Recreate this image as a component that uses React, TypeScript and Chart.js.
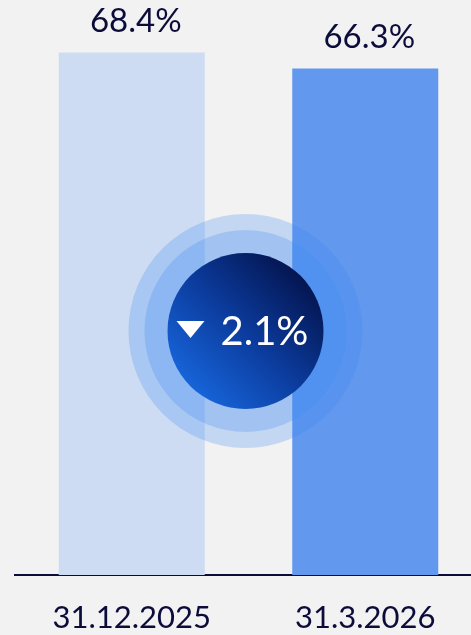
import React, { useEffect, useRef } from "react";
import { Chart, registerables } from "chart.js";

Chart.register(...registerables);

const categories: string[] = ["31.12.2025", "31.3.2026"];
const values: number[] = [68.4, 66.3];
const barColors: string[] = ["#cddcf2", "#6299ee"];
const yMin = 0;
const yMax = 75;

const NAVY = "#0c0c3a";
const FONT = "Lato, 'Open Sans', sans-serif";

const valueLabelPlugin = {
  id: "valueLabels",
  afterDatasetsDraw(chart: any) {
    const ctx = chart.ctx;
    const meta = chart.getDatasetMeta(0);
    ctx.save();
    ctx.fillStyle = NAVY;
    ctx.font = `33px ${FONT}`;
    ctx.textAlign = "center";
    ctx.textBaseline = "alphabetic";
    meta.data.forEach((bar: any, i: number) => {
      ctx.fillText(`${values[i].toFixed(1)}%`, bar.x + 4, bar.y - 20);
    });
    ctx.restore();
  },
};

const badgePlugin = {
  id: "badge",
  afterDatasetsDraw(chart: any) {
    const ctx = chart.ctx;
    const meta = chart.getDatasetMeta(0);
    const a = meta.data[0];
    const b = meta.data[1];
    const cx = (a.x + b.x) / 2 - 3;
    const cy = chart.chartArea.bottom - 244;
    ctx.save();
    ctx.fillStyle = "rgba(60,135,245,0.25)";
    ctx.beginPath();
    ctx.arc(cx, cy, 117, 0, Math.PI * 2);
    ctx.fill();
    ctx.beginPath();
    ctx.arc(cx, cy, 101, 0, Math.PI * 2);
    ctx.fill();
    const r = 78;
    const g = ctx.createLinearGradient(cx - r * 0.75, cy + r * 0.75, cx + r * 0.75, cy - r * 0.75);
    g.addColorStop(0, "#1766dc");
    g.addColorStop(0.5, "#0b3b9c");
    g.addColorStop(1, "#04134d");
    ctx.fillStyle = g;
    ctx.beginPath();
    ctx.arc(cx, cy, r, 0, Math.PI * 2);
    ctx.fill();
    ctx.fillStyle = "#ffffff";
    ctx.beginPath();
    ctx.moveTo(cx - 69, cy - 10);
    ctx.lineTo(cx - 41, cy - 10);
    ctx.lineTo(cx - 55, cy + 7);
    ctx.closePath();
    ctx.fill();
    const diff = Math.abs(values[0] - values[1]).toFixed(1);
    ctx.font = `40px ${FONT}`;
    ctx.textAlign = "left";
    ctx.textBaseline = "alphabetic";
    ctx.fillText(`${diff}%`, cx - 25, cy + 14);
    ctx.restore();
  },
};

export default function App() {
  const ref = useRef<HTMLCanvasElement | null>(null);

  useEffect(() => {
    document.body.style.margin = "0";
    document.body.style.background = "#f2f2f2";
    const canvas = ref.current;
    if (!canvas) return;
    const chart = new Chart(canvas, {
      type: "bar",
      data: {
        labels: categories,
        datasets: [
          {
            data: values,
            backgroundColor: barColors,
            borderWidth: 0,
            barPercentage: 1,
            categoryPercentage: 146 / 233.5,
          },
        ],
      },
      options: {
        animation: false,
        responsive: false,
        maintainAspectRatio: false,
        layout: { padding: { top: 2, left: 15, right: 0, bottom: 0 } },
        plugins: {
          legend: { display: false },
          tooltip: { enabled: false },
        },
        scales: {
          y: {
            display: false,
            min: yMin,
            max: yMax,
          },
          x: {
            grid: { display: false, drawTicks: false },
            border: { display: true, color: NAVY, width: 2 },
            ticks: {
              color: NAVY,
              font: { family: FONT, size: 31 },
              padding: 24,
            },
            afterFit(scale: any) {
              scale.height = 60;
            },
          },
        },
      },
      plugins: [valueLabelPlugin, badgePlugin],
    });
    return () => chart.destroy();
  }, []);

  return (
    <div style={{ width: 471, height: 635, overflow: "hidden", background: "#f2f2f2", position: "relative" }}>
      <canvas ref={ref} width={482} height={635} style={{ display: "block", width: 482, height: 635 }} />
    </div>
  );
}
